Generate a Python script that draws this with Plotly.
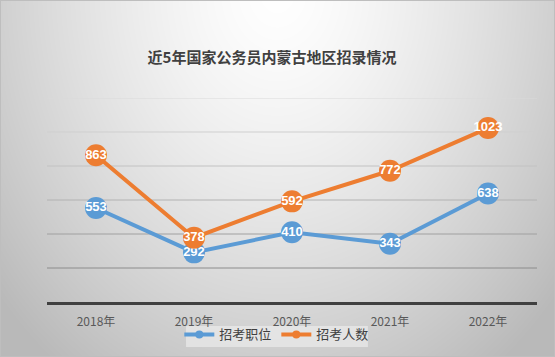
import base64, struct, zlib
import numpy as np
import plotly.graph_objects as go

years = ["2018年", "2019年", "2020年", "2021年", "2022年"]
posts = [553, 292, 410, 343, 638]
people = [863, 378, 592, 772, 1023]
grid_vals = [200, 400, 600, 800, 1000, 1200]

W, H = 555, 357

# radial gradient background as png data uri
yy, xx = np.mgrid[0:H, 0:W].astype(float)
d = np.sqrt(((xx - 277) / 300.0) ** 2 + ((yy + 10) / 380.0) ** 2)
v = np.clip(255 - 52 * d ** 1.4, 185, 255).astype(np.uint8)
img = np.stack([v, v, v], axis=-1)
img[0, :, :] = 190
img[-1, :, :] = 190
img[:, 0, :] = 190
img[:, -1, :] = 190
raw = b"".join(b"\x00" + img[r].tobytes() for r in range(H))
def chunk(t, data):
    c = struct.pack(">I", len(data)) + t + data
    return c + struct.pack(">I", zlib.crc32(t + data) & 0xffffffff)
png = b"\x89PNG\r\n\x1a\n" + chunk(b"IHDR", struct.pack(">IIBBBBB", W, H, 8, 2, 0, 0, 0)) \
    + chunk(b"IDAT", zlib.compress(raw, 9)) + chunk(b"IEND", b"")
uri = "data:image/png;base64," + base64.b64encode(png).decode()

blue = "#5B9BD5"
orange = "#ED7D31"
lab_font = dict(family="Liberation Sans Narrow, Liberation Sans, Arial", size=13, color="white", weight="bold")

fig = go.Figure()
fig.add_trace(go.Scatter(x=years, y=posts, mode="lines+markers+text", text=[str(v) for v in posts],
                         textposition="middle center", textfont=lab_font,
                         line=dict(color=blue, width=4), marker=dict(size=22, color=blue),
                         showlegend=False, cliponaxis=False))
fig.add_trace(go.Scatter(x=years, y=people, mode="lines+markers+text", text=[str(v) for v in people],
                         textposition="middle center", textfont=lab_font,
                         line=dict(color=orange, width=4), marker=dict(size=22, color=orange),
                         showlegend=False, cliponaxis=False))
fig.add_trace(go.Scatter(x=[None], y=[None], mode="lines+markers", name="招考职位",
                         line=dict(color=blue, width=4), marker=dict(size=8, color=blue)))
fig.add_trace(go.Scatter(x=[None], y=[None], mode="lines+markers", name="招考人数",
                         line=dict(color=orange, width=4), marker=dict(size=8, color=orange)))

grid_colors = ["#8c8c8c", "#a0a0a0", "#b2b2b2", "#c2c2c2", "#cfcfcf", "#dadada"]
shapes = [dict(type="line", xref="paper", yref="y", x0=0, x1=1, y0=g, y1=g,
               line=dict(color=c, width=1), layer="below") for g, c in zip(grid_vals, grid_colors)]
# legend background box
shapes.append(dict(type="rect", xref="paper", yref="paper", x0=0.2837, x1=0.655,
                   y0=-0.2206, y1=-0.1176, fillcolor="rgba(240,240,240,0.6)",
                   line=dict(width=0), layer="below"))

fig.update_layout(
    width=W, height=H,
    margin=dict(l=47, r=18, t=98, b=55, autoexpand=False),
    paper_bgcolor="rgba(0,0,0,0)", plot_bgcolor="rgba(0,0,0,0)",
    images=[dict(source=uri, xref="paper", yref="paper", x=-47 / 490, y=1 + 98 / 204,
                 sizex=W / 490, sizey=H / 204, xanchor="left", yanchor="top",
                 sizing="stretch", layer="below")],
    title=dict(text="<b>近5年国家公务员内蒙古地区招录情况</b>", x=272 / W, xanchor="center",
               y=1 - 58 / H, yanchor="middle",
               font=dict(family="Noto Sans CJK SC", size=15, color="#404040")),
    xaxis=dict(showgrid=False, showline=True, linecolor="#404040", linewidth=2.5,
               tickfont=dict(family="Noto Sans CJK SC", size=12, color="#595959"),
               ticks="", ticklabelstandoff=7, range=[-0.5, 4.5], fixedrange=True,
               automargin=False),
    yaxis=dict(range=[0, 1200], showgrid=False, showticklabels=False, zeroline=False,
               ticks="", fixedrange=True, automargin=False),
    shapes=shapes,
    legend=dict(orientation="h", x=0.469, xanchor="center", y=-0.159, yanchor="middle",
                bgcolor="rgba(0,0,0,0)", font=dict(family="Noto Sans CJK SC", size=13, color="#404040"),
                itemwidth=30, tracegroupgap=0),
    showlegend=True,
)
fig.write_html("out.html", config={"displayModeBar": False},
               post_script="document.body.style.margin='0';document.body.style.overflow='hidden';")
